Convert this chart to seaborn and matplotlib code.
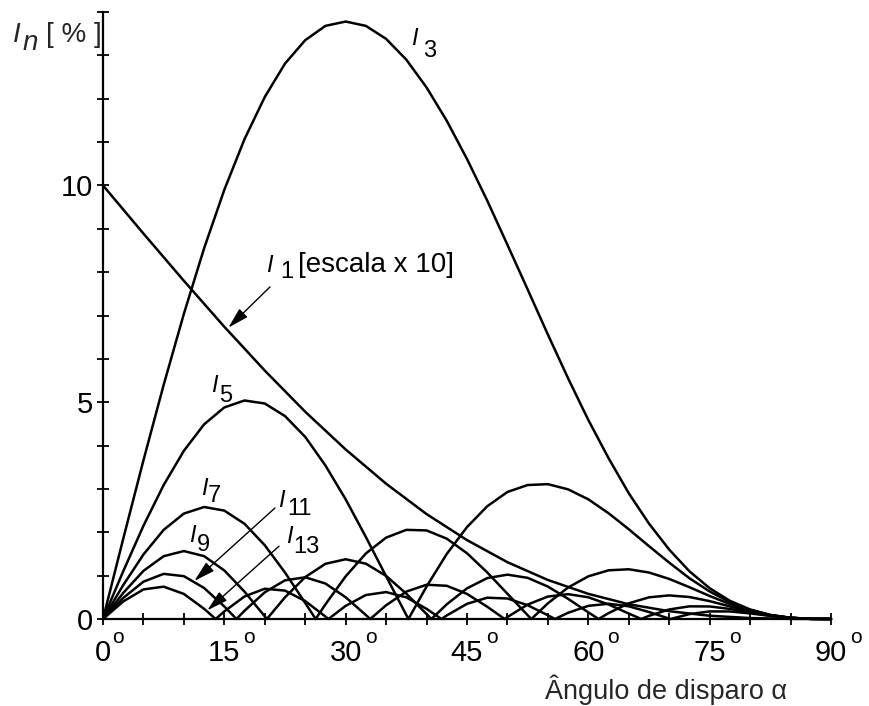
import matplotlib
matplotlib.use("Agg")
import matplotlib.pyplot as plt
import pandas as pd
import seaborn as sns

# ---------------- data ----------------
i1_alpha = [0, 5, 10, 15, 20, 25, 30, 35, 40, 45, 50, 55, 60, 65, 70, 75, 80, 85, 90]
i1_val = [10.0, 8.89, 7.80, 6.74, 5.73, 4.78, 3.91, 3.12, 2.42, 1.82, 1.31, 0.90,
          0.58, 0.34, 0.18, 0.075, 0.022, 0.003, 0.0]

i3_alpha = [0, 2.5, 5, 7.5, 10, 12.5, 15, 17.5, 20, 22.5, 25, 27.5, 30, 32.5, 35, 37.5,
            40, 42.5, 45, 47.5, 50, 52.5, 55, 57.5, 60, 62.5, 65, 67.5, 70, 72.5, 75,
            77.5, 80, 82.5, 85, 87.5, 90]
i3_val = [0, 1.85, 3.66, 5.40, 7.04, 8.55, 9.90, 11.07, 12.04, 12.81, 13.35, 13.68,
          13.78, 13.68, 13.38, 12.90, 12.26, 11.49, 10.61, 9.65, 8.63, 7.60, 6.56,
          5.55, 4.59, 3.71, 2.90, 2.20, 1.60, 1.10, 0.71, 0.42, 0.22, 0.094, 0.028,
          0.0035, 0]

i5_alpha = [0, 2.5, 5, 7.5, 10, 12.5, 15, 17.5, 20, 22.5, 25, 27.5, 30, 32.5, 35, 37.5,
            37.76, 40, 42.5, 45, 47.5, 50, 52.5, 55, 57.5, 60, 62.5, 65, 67.5, 70, 72.5,
            75, 77.5, 80, 82.5, 85, 87.5, 90]
i5_val = [0, 1.10, 2.15, 3.09, 3.88, 4.49, 4.88, 5.04, 4.97, 4.68, 4.20, 3.54, 2.76,
          1.89, 0.985, 0.091, 0, 0.749, 1.50, 2.12, 2.60, 2.93, 3.09, 3.11, 2.99, 2.76,
          2.44, 2.07, 1.68, 1.30, 0.94, 0.635, 0.389, 0.208, 0.091, 0.028, 0.0035, 0]

i7_alpha = [0, 2.5, 5, 7.5, 10, 12.5, 15, 17.5, 20, 22.5, 25, 26.29, 27.5, 30, 32.5, 35,
            37.5, 40, 42.5, 45, 47.5, 50, 52.5, 52.96, 55, 57.5, 60, 62.5, 65, 67.5, 70,
            72.5, 75, 77.5, 80, 82.5, 85, 87.5, 90]
i7_val = [0, 0.781, 1.488, 2.056, 2.432, 2.583, 2.500, 2.195, 1.701, 1.072, 0.369, 0,
          0.338, 0.984, 1.512, 1.877, 2.056, 2.043, 1.853, 1.516, 1.075, 0.582, 0.087, 0,
          0.362, 0.727, 0.984, 1.123, 1.147, 1.072, 0.924, 0.733, 0.531, 0.345, 0.193,
          0.087, 0.027, 0.0035, 0]

i9_alpha = [0, 2.5, 5, 7.5, 10, 12.5, 15, 17.5, 20, 20.26, 22.5, 25, 27.5, 30, 32.5, 35,
            37.5, 40, 40.6, 42.5, 45, 47.5, 50, 52.5, 55, 57.5, 60, 61.27, 62.5, 65, 67.5,
            70, 72.5, 75, 77.5, 80, 82.5, 85, 87.5, 90]
i9_val = [0, 0.601, 1.110, 1.449, 1.567, 1.450, 1.119, 0.630, 0.0605, 0, 0.500, 0.967,
          1.273, 1.378, 1.276, 0.994, 0.583, 0.114, 0, 0.339, 0.707, 0.943, 1.023, 0.949,
          0.748, 0.465, 0.153, 0, 0.136, 0.362, 0.500, 0.544, 0.507, 0.412, 0.291, 0.174,
          0.0825, 0.0265, 0.0035, 0]

i11_alpha = [0, 2.5, 5, 7.5, 10, 12.5, 15, 16.5, 17.5, 20, 22.5, 25, 27.5, 30, 32.5,
             33.04, 35, 37.5, 40, 42.5, 45, 47.5, 49.65, 50, 52.5, 55, 57.5, 60, 62.5, 65,
             66.53, 67.5, 70, 72.5, 75, 77.5, 80, 82.5, 85, 87.5, 90]
i11_val = [0, 0.486, 0.861, 1.041, 0.988, 0.715, 0.289, 0, 0.191, 0.616, 0.892, 0.962,
           0.818, 0.501, 0.091, 0, 0.317, 0.632, 0.790, 0.766, 0.579, 0.283, 0, 0.0457,
           0.333, 0.518, 0.573, 0.501, 0.335, 0.126, 0, 0.0731, 0.220, 0.292, 0.289,
           0.233, 0.152, 0.0767, 0.0257, 0.0034, 0]

i13_alpha = [0, 2.5, 5, 7.5, 10, 12.5, 13.93, 15, 17.5, 20, 22.5, 25, 27.5, 27.87, 30,
             32.5, 35, 37.5, 40, 41.84, 42.5, 45, 47.5, 50, 52.5, 55, 55.88, 57.5, 60,
             62.5, 65, 67.5, 70, 70.16, 72.5, 75, 77.5, 80, 82.5, 85, 87.5, 90]
i13_val = [0, 0.405, 0.682, 0.746, 0.578, 0.235, 0, 0.175, 0.521, 0.698, 0.655, 0.414,
           0.0562, 0, 0.303, 0.553, 0.621, 0.499, 0.234, 0, 0.0825, 0.350, 0.491, 0.473,
           0.318, 0.0855, 0, 0.144, 0.303, 0.352, 0.293, 0.161, 0.0089, 0, 0.113, 0.175,
           0.174, 0.129, 0.0702, 0.0247, 0.0034, 0]

curve_names = ["I1", "I3", "I5", "I7", "I9", "I11", "I13"]
curve_alphas = [i1_alpha, i3_alpha, i5_alpha, i7_alpha, i9_alpha, i11_alpha, i13_alpha]
curve_values = [i1_val, i3_val, i5_val, i7_val, i9_val, i11_val, i13_val]

xtick_pos = [0, 5, 10, 15, 20, 25, 30, 35, 40, 45, 50, 55, 60, 65, 70, 75, 80, 85, 90]
xtick_num = ["0", "", "", "15", "", "", "30", "", "", "45", "", "", "60", "", "", "75",
             "", "", "90"]
ytick_pos = [0, 1, 2, 3, 4, 5, 6, 7, 8, 9, 10, 11, 12, 13, 14]
ytick_lab = ["0", "", "", "", "", "5", "", "", "", "", "10", "", "", "", ""]
degree_mark = "o"

# curve labels: (italic letter, index text, letter pos, index pos) in data units
curve_labels = [
    ("I", "3", (38.08, 13.24), (39.56, 12.96)),
    ("I", "5", (13.35, 5.24), (14.34, 5.00)),
    ("I", "7", (12.11, 2.86), (12.98, 2.70)),
    ("I", "9", (10.63, 1.78), (11.62, 1.57)),
    ("I", "11", (21.63, 2.58), (22.75, 2.40)),
    ("I", "13", (22.62, 1.75), (23.49, 1.52)),
    ("I", "1", (20.15, 8.00), (21.88, 7.86)),
]
i1_note = "[escala x 10]"
i1_note_pos = (24.11, 8.00)
# arrows: (start, tip) in data units
arrows = [((20.65, 7.66), (15.5, 6.72)),
          ((21.26, 2.56), (11.3, 0.88)),
          ((21.76, 1.68), (12.9, 0.20))]

x_title = "Ângulo de disparo α"

# ---------------- drawing ----------------
sns.set_theme(style="white")
plt.rcParams["font.family"] = ["Liberation Sans", "DejaVu Sans"]

W, H = 870, 706
fig = plt.figure(figsize=(W / 100, H / 100), dpi=100)
fig.patch.set_facecolor("white")
ax = fig.add_axes([103 / W, 1 - 619 / H, 728 / W, 607 / H])
ax.set_facecolor("white")

frames = []
for name, a, v in zip(curve_names, curve_alphas, curve_values):
    frames.append(pd.DataFrame({"alpha": a, "value": v, "curve": name}))
df = pd.concat(frames, ignore_index=True)

sns.lineplot(data=df, x="alpha", y="value", units="curve", estimator=None,
             color="black", linewidth=1.8, sort=False, legend=False, ax=ax)
for ln in ax.lines:
    ln.set_clip_on(False)
    ln.set_solid_joinstyle("round")

ax.set_xlim(0, 90)
ax.set_ylim(0, 14)
ax.set_xlabel("")
ax.set_ylabel("")
for side in ["top", "right"]:
    ax.spines[side].set_visible(False)
for side in ["left", "bottom"]:
    ax.spines[side].set_color("black")
    ax.spines[side].set_linewidth(1.6)

ax.set_xticks(xtick_pos)
ax.set_xticklabels(xtick_num)
ax.set_yticks(ytick_pos)
ax.set_yticklabels(ytick_lab)
ax.tick_params(axis="both", which="major", direction="inout", length=9, width=1.3,
               colors="black", labelsize=21, bottom=True, left=True)
ax.tick_params(axis="x", pad=10)
ax.tick_params(axis="y", pad=3)

# raised "o" degree marks beside each labelled angle
for pos, num in zip(xtick_pos, xtick_num):
    if num:
        dx = 15 if len(num) == 1 else 25
        ax.annotate(degree_mark, xy=(pos, 0), xycoords=("data", "axes fraction"),
                    xytext=(dx, -24), textcoords="offset pixels", ha="center",
                    va="baseline", fontsize=15, color="black", annotation_clip=False)

for letter, idx, p1, p2 in curve_labels:
    ax.text(p1[0], p1[1], letter, fontsize=17, fontstyle="italic", ha="left",
            va="baseline", color="black")
    ax.text(p2[0], p2[1], idx, fontsize=17, ha="left", va="baseline", color="black")
ax.text(i1_note_pos[0], i1_note_pos[1], i1_note, fontsize=20, ha="left",
        va="baseline", color="black")

for start, tip in arrows:
    ax.annotate("", xy=tip, xytext=start,
                arrowprops=dict(arrowstyle="-|>,head_length=0.8,head_width=0.22",
                                color="black", lw=1.0, shrinkA=0, shrinkB=0,
                                mutation_scale=16))

# y title  I_n [ % ]
fig.text(13 / W, 1 - 42 / H, "I", fontsize=20, fontstyle="italic", ha="left",
         va="baseline")
fig.text(23 / W, 1 - 50 / H, "n", fontsize=20, fontstyle="italic", ha="left",
         va="baseline")
fig.text(46 / W, 1 - 42 / H, "[ % ]", fontsize=20, ha="left", va="baseline")

# x title
fig.text(787 / W, 1 - 699 / H, x_title, fontsize=19.5, ha="right", va="baseline")

fig.savefig("out.png", dpi=100, facecolor="white")
